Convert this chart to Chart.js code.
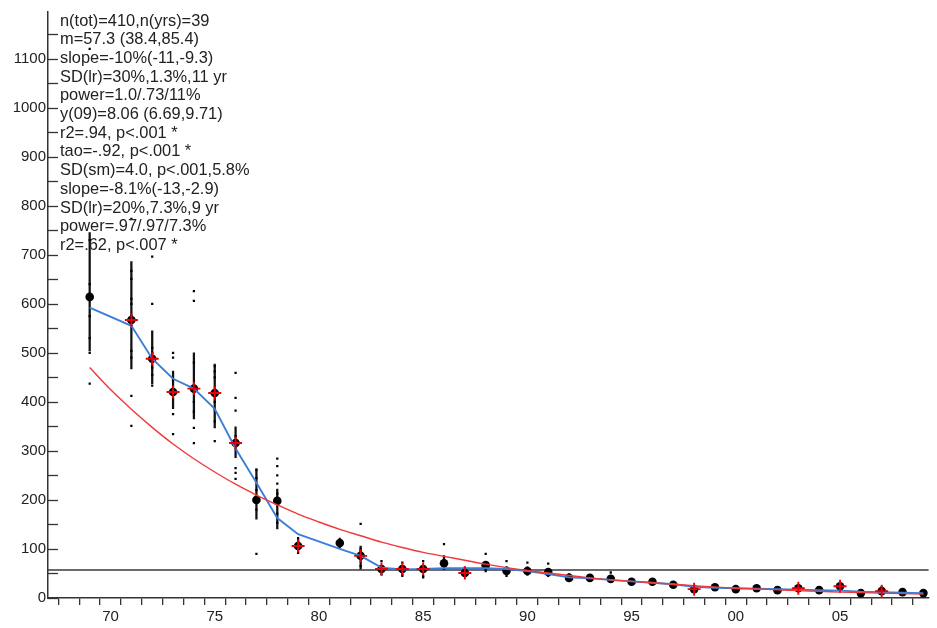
<!DOCTYPE html>
<html><head><meta charset="utf-8">
<script src="https://cdn.jsdelivr.net/npm/chart.js@4/dist/chart.umd.min.js"></script>
<style>html,body{margin:0;padding:0;background:#fff}#wrap{width:937px;height:628px}</style>
</head><body><div id="wrap"><canvas id="c" width="937" height="628"></canvas></div>
<script>
// ---- data ----
const years = [69,71,72,73,74,75,76,77,78,79,81,82,83,84,85,86,87,88,89,90,91,92,93,94,95,96,97,98,99,100,101,102,103,104,105,106,107,108,109];
const means = [614,567,488,420,427,418,316,200,198,106,112,86,59,59,59,71,51,67,55,55,53,41,41,39,33,33,27,18,22,18,20,16,20,16,24,10,14,12,10];
const smooth = [592,555,488,447,427,386,305,235,163,130,100,86,62,58,59,61,61,61,59,55,49,42,40,37,34,31,28,23,21,20,19,18,17,16,15,13,12,11,10];
const crossYears = [71,72,73,74,75,76,79,82,83,84,85,87,98,103,105,107];
const fitYears = [69,70,71,72,73,74,75,76,77,78,79,80,81,82,83,84,85,86,87,88,89,90,91,92,93,94,95,96,97,98,99,100,101,102,103,104,105,106,107,108,109];
const fitValues = [470,425,385,348,314,284,257,232,210,190,171,155,140,127,114,103,93,85,77,69,62,56,51,46,41,37,34,31,28,25,22.5,20,18.5,16.5,15,13.5,12,11,10,9,8];
const errYears = [69,71,72,73,74,75,76,77,78,79,81,82,86,88,89,90,91];
const errLow  = [504,467,437,386,365,347,286,161,141,95,103,59,60,58,47,47,46];
const errHigh = [745,686,545,463,500,477,349,263,222,120,122,106,85,75,64,62,60];
const scatterYears = [69,69,69,69,69,69,69, 71,71,71,71,71,71,71,71,71,71, 72,72,72,72,72,72,72, 73,73,73,73,73, 74,74,74,74,74,74,74, 75,75,75,75,75,75,75, 76,76,76,76,76,76,76, 77,77,77,77,77, 78,78,78,78,78,78,78,78, 79,79,79,79, 81,81, 82,82,82,82, 83,83, 84,84,84, 85,85,85, 86,86,86, 87,87, 88,88,88, 89,89,89, 90,90,90, 91,91,91, 92,92, 94,94, 96, 103, 105, 107, 109];
const scatterValues = [1120,730,640,575,530,500,437, 773,667,651,610,600,576,504,490,412,351, 696,600,510,500,470,433,455, 500,490,375,334,445, 626,606,480,400,380,347,316, 473,462,450,400,385,360,320, 459,408,382,265,255,243,330, 262,245,90,220,180, 284,269,250,233,213,192,172,153, 122,92,100,115, 118,105, 151,100,95,65, 75,48, 72,48,45, 75,45,42, 110,85,60, 62,45, 90,72,55, 75,50,45, 72,62,48, 70,55,45, 48,38, 52,35, 38, 25, 30, 22, 12];
const mValue = 57.3;
const xTickYears = [70,75,80,85,90,95,100,105];
const xTickLabels = ['70','75','80','85','90','95','00','05'];
const yTickValues = [0,100,200,300,400,500,600,700,800,900,1000,1100];
const yTickLabels = ['0','100','200','300','400','500','600','700','800','900','1000','1100'];
const statLines = [
  'n(tot)=410,n(yrs)=39',
  'm=57.3 (38.4,85.4)',
  'slope=-10%(-11,-9.3)',
  'SD(lr)=30%,1.3%,11 yr',
  'power=1.0/.73/11%',
  'y(09)=8.06 (6.69,9.71)',
  'r2=.94, p<.001 *',
  'tao=-.92, p<.001 *',
  'SD(sm)=4.0, p<.001,5.8%',
  'slope=-8.1%(-13,-2.9)',
  'SD(lr)=20%,7.3%,9 yr',
  'power=.97/.97/7.3%',
  'r2=.62, p<.007 *'
];

const FONT = "'Liberation Sans', Arial, sans-serif";

const overlay = {
  id: 'overlay',
  beforeDatasetsDraw(chart) {
    const {ctx, chartArea, scales} = chart;
    const y = scales.y;
    const py = y.getPixelForValue(mValue);
    ctx.save();
    ctx.strokeStyle = '#3a3a3a';
    ctx.lineWidth = 1.5;
    ctx.beginPath();
    ctx.moveTo(chartArea.left, py);
    ctx.lineTo(chartArea.right, py);
    ctx.stroke();
    ctx.restore();
  },
  afterDraw(chart) {
    const {ctx, chartArea, scales} = chart;
    const y = scales.y;
    ctx.save();
    ctx.strokeStyle = '#333';
    ctx.lineWidth = 1.3;
    y.ticks.forEach(t => {
      const p = Math.round(y.getPixelForValue(t.value)) + 0.5;
      ctx.beginPath();
      ctx.moveTo(chartArea.left, p);
      ctx.lineTo(chartArea.left + 10, p);
      ctx.stroke();
    });
    ctx.fillStyle = '#222';
    ctx.font = '16.4px ' + FONT;
    ctx.textBaseline = 'middle';
    ctx.textAlign = 'left';
    statLines.forEach((s, i) => ctx.fillText(s, 60, 21 + i * 18.7));
    ctx.restore();
  }
};

const ptsXY = (xs, ys) => xs.map((x, i) => ({x, y: ys[i]}));

new Chart(document.getElementById('c'), {
  type: 'line',
  data: {
    datasets: [
      { type: 'line', label: 'cross', data: crossYears.map(x => ({x, y: means[years.indexOf(x)]})),
        showLine: false, pointStyle: 'cross', pointRadius: 6.5, borderColor: '#e8000a', borderWidth: 1.9,
        backgroundColor: 'rgba(0,0,0,0)', order: 0 },
      { type: 'line', label: 'fit', data: ptsXY(fitYears, fitValues), borderColor: '#f0383c', borderWidth: 1.4,
        pointRadius: 0, tension: 0.3, order: 1 },
      { type: 'line', label: 'smooth', data: ptsXY(years, smooth), borderColor: '#3d7fd6', borderWidth: 1.9,
        pointRadius: 0, tension: 0, order: 2 },
      { type: 'line', label: 'means', data: ptsXY(years, means), showLine: false, pointRadius: 4.3,
        pointStyle: 'circle', backgroundColor: '#000', borderColor: '#000', borderWidth: 0, order: 3 },
      { type: 'line', label: 'obs', data: ptsXY(scatterYears, scatterValues), showLine: false, pointRadius: 1.6,
        pointStyle: 'rect', backgroundColor: '#000', borderColor: '#000', borderWidth: 0, order: 4 },
      { type: 'bar', label: 'range', data: errYears.map((x, i) => ({x, y: [errLow[i], errHigh[i]]})),
        backgroundColor: '#111', borderWidth: 0, barThickness: 1.6, order: 5 }
    ]
  },
  options: {
    responsive: false,
    animation: false,
    devicePixelRatio: 1,
    layout: { padding: { top: 12, left: 0, right: 0, bottom: 0 } },
    plugins: { legend: { display: false }, tooltip: { enabled: false } },
    scales: {
      x: {
        type: 'linear', position: 'bottom', min: 67, max: 109.25, offset: false,
        afterBuildTicks: s => { s.ticks = s.ticks.filter(t => Number.isInteger(t.value)); },
        afterFit: s => { s.height = 30; },
        ticks: {
          stepSize: 1, autoSkip: false, maxRotation: 0, padding: 3,
          color: '#222', font: { family: FONT, size: 15 },
          callback: v => { const i = xTickYears.indexOf(v); return i >= 0 ? xTickLabels[i] : ''; }
        },
        grid: { drawOnChartArea: false, drawTicks: true, tickLength: 7, color: '#333', lineWidth: 1.3 },
        border: { display: true, color: '#333', width: 1.5 }
      },
      y: {
        type: 'linear', min: 0, max: 1195,
        afterBuildTicks: s => { s.ticks = s.ticks.filter(t => t.value % 50 === 0); },
        afterFit: s => { s.width = 48; },
        ticks: {
          stepSize: 50, autoSkip: false, padding: 2,
          color: '#222', font: { family: FONT, size: 15 },
          callback: v => { const i = yTickValues.indexOf(v); return i >= 0 ? yTickLabels[i] : ''; }
        },
        grid: { display: false, drawTicks: false },
        border: { display: true, color: '#333', width: 1.5 }
      }
    }
  },
  plugins: [overlay]
});
</script></body></html>
